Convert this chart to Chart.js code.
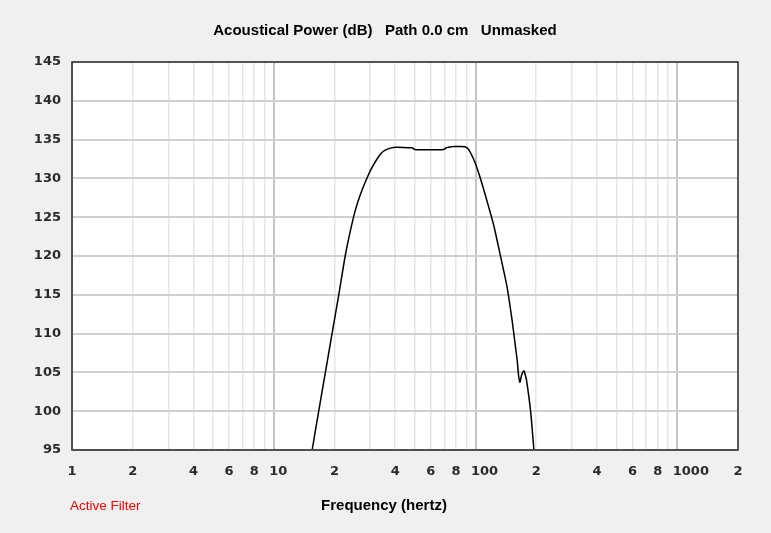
<!DOCTYPE html>
<html>
<head>
<meta charset="utf-8">
<script src="https://cdn.jsdelivr.net/npm/chart.js@4/dist/chart.umd.min.js"></script>
<style>
  html, body { margin: 0; padding: 0; background: #f0f0f0; }
  canvas { display: block; }
</style>
</head>
<body>
<canvas id="power" width="771" height="533"></canvas>
<script>
// frequency response (Hz, dB)
var freqs = [14.5, 15.5, 16.6, 18.0, 19.45, 21.0, 22.6, 24.0, 25.5, 27.4, 29.5, 31.0, 32.5, 34.0, 35.5, 37.9, 40.5,
    46, 48.5, 50, 55, 63, 69.5, 71.7, 78, 85, 89.2, 92, 94.5, 97, 100, 104, 110, 116, 123, 133,
    143.6, 152, 158, 161, 163.5, 166, 169, 173.7, 176, 179, 187.5, 194.7, 200];
var powerDb = [90, 95, 99.6, 104.9, 110, 115, 120, 123.3, 126.1, 128.5, 130.5, 131.6, 132.5, 133.2, 133.6, 133.9, 134.0,
    133.95, 133.95, 133.72, 133.7, 133.7, 133.72, 133.95, 134.1, 134.1, 134.05, 133.8, 133.3, 132.7, 131.9, 130.6, 128.5, 126.4, 124.0, 120,
    115.9, 111.6, 108.2, 106.5, 104.6, 103.7, 104.6, 105.2, 104.8, 104.0, 100, 95, 91];

// x axis: every gridline, and which of them carry a label
var gridFreqs = [1, 2, 3, 4, 5, 6, 7, 8, 9, 10, 20, 30, 40, 50, 60, 70, 80, 90,
    100, 200, 300, 400, 500, 600, 700, 800, 900, 1000, 2000];
var decadeFreqs = [1, 10, 100, 1000];
var labeledFreqs = [1, 2, 4, 6, 8, 10, 20, 40, 60, 80, 100, 200, 400, 600, 800, 1000, 2000];
var freqLabels = ['1', '2', '4', '6', '8', '10', '2', '4', '6', '8', '100', '2', '4', '6', '8', '1000', '2'];

var yMin = 95;
var yMax = 145;
var yStep = 5;

var chartTitle = 'Acoustical Power (dB)   Path 0.0 cm   Unmasked';
var xTitle = 'Frequency (hertz)';
var filterNote = 'Active Filter';

//////////////////////////////////////////////

var points = [];
for (var i = 0; i < freqs.length; i++) {
    points.push({ x: freqs[i], y: powerDb[i] });
}

var framePlugin = {
    id: 'frame',
    beforeDraw: function(chart) {
        var ctx = chart.ctx;
        var a = chart.chartArea;
        ctx.save();
        ctx.fillStyle = '#f0f0f0';
        ctx.fillRect(0, 0, chart.width, chart.height);
        ctx.fillStyle = '#ffffff';
        ctx.fillRect(a.left, a.top, a.right - a.left, a.bottom - a.top);
        ctx.restore();
    },
    afterDatasetsDraw: function(chart) {
        var ctx = chart.ctx;
        var a = chart.chartArea;
        ctx.save();
        ctx.strokeStyle = '#2a2a2a';
        ctx.lineWidth = 1.5;
        ctx.strokeRect(a.left, a.top, a.right - a.left, a.bottom - a.top);
        ctx.strokeStyle = '#505050';
        ctx.lineWidth = 2;
        ctx.beginPath();
        ctx.moveTo(a.left, a.bottom);
        ctx.lineTo(a.right, a.bottom);
        ctx.stroke();
        ctx.restore();
    },
    afterDraw: function(chart) {
        var ctx = chart.ctx;
        ctx.save();
        ctx.textBaseline = 'middle';
        ctx.fillStyle = '#000000';
        ctx.font = 'bold 15px "Liberation Sans", Arial, sans-serif';
        ctx.textAlign = 'center';
        ctx.fillText(chartTitle, 385, 31);
        ctx.fillText(xTitle, 384, 506);
        ctx.fillStyle = '#f00000';
        ctx.font = '13.5px "Liberation Sans", Arial, sans-serif';
        ctx.textAlign = 'left';
        ctx.fillText(filterNote, 70, 506);
        ctx.restore();
    }
};

var ctx = document.getElementById('power').getContext('2d');
var chart = new Chart(ctx, {
    type: 'line',
    data: {
        datasets: [{
            label: 'Acoustical Power',
            data: points,
            borderColor: '#000000',
            borderWidth: 1.5,
            pointRadius: 0,
            fill: false,
            tension: 0.25
        }]
    },
    options: {
        responsive: false,
        animation: false,
        devicePixelRatio: 1,
        layout: {
            padding: { top: 62, right: 33, bottom: 0, left: 0 }
        },
        plugins: {
            legend: { display: false },
            tooltip: { enabled: false },
            title: { display: false }
        },
        scales: {
            x: {
                type: 'logarithmic',
                min: 1,
                max: 2000,
                afterBuildTicks: function(scale) {
                    scale.ticks = gridFreqs.map(function(v) { return { value: v }; });
                },
                afterFit: function(scale) {
                    scale.height = 83;
                },
                border: { display: false },
                grid: {
                    drawTicks: false,
                    color: function(c) {
                        return decadeFreqs.indexOf(c.tick.value) >= 0 ? '#c4c4c4' : '#e6e6e6';
                    },
                    lineWidth: function(c) {
                        return decadeFreqs.indexOf(c.tick.value) >= 0 ? 2 : 1.5;
                    }
                },
                ticks: {
                    autoSkip: false,
                    maxRotation: 0,
                    minRotation: 0,
                    align: 'start',
                    labelOffset: -4.5,
                    padding: 14,
                    color: '#2a2a2a',
                    font: { family: '"DejaVu Sans", Verdana, sans-serif', size: 13, weight: 'bold' },
                    callback: function(value) {
                        var idx = labeledFreqs.indexOf(value);
                        return idx >= 0 ? freqLabels[idx] : '';
                    }
                }
            },
            y: {
                type: 'linear',
                min: yMin,
                max: yMax,
                afterFit: function(scale) {
                    scale.width = 72;
                },
                border: { display: false },
                grid: {
                    drawTicks: false,
                    color: '#d0d0d0',
                    lineWidth: 2
                },
                ticks: {
                    stepSize: yStep,
                    padding: 11,
                    color: '#2a2a2a',
                    font: { family: '"DejaVu Sans", Verdana, sans-serif', size: 13, weight: 'bold' }
                }
            }
        }
    },
    plugins: [framePlugin]
});
</script>
</body>
</html>
